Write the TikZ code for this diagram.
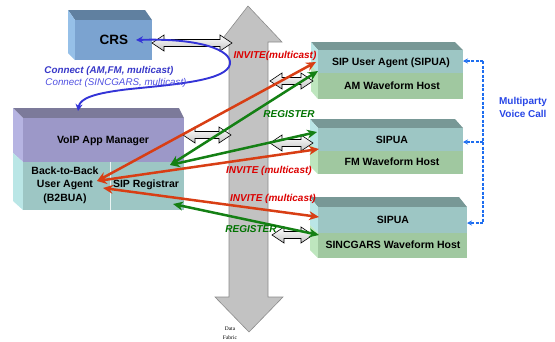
\documentclass[tikz,border=0pt]{standalone}
\usepackage{fontspec}
\setmainfont{Liberation Sans}
\newfontfamily\serifsmall{Liberation Serif}
\usetikzlibrary{arrows.meta,calc}

\definecolor{crsfront}{RGB}{123,163,208}
\definecolor{crstop}{RGB}{96,128,160}
\definecolor{crsleft}{RGB}{150,192,232}
\definecolor{voipfront}{RGB}{156,152,200}
\definecolor{voiptop}{RGB}{124,122,154}
\definecolor{voipleft}{RGB}{182,180,226}
\definecolor{tealfront}{RGB}{157,198,196}
\definecolor{tealleft}{RGB}{186,230,230}
\definecolor{greenfront}{RGB}{160,200,160}
\definecolor{greenleft}{RGB}{190,230,190}
\definecolor{boxtop}{RGB}{120,152,150}
\definecolor{fabric}{RGB}{194,194,194}
\definecolor{fabricline}{RGB}{140,140,140}
\definecolor{invred}{RGB}{216,62,20}
\definecolor{invtext}{RGB}{220,0,0}
\definecolor{reggreen}{RGB}{20,128,20}
\definecolor{regtext}{RGB}{0,115,0}
\definecolor{crsblue}{RGB}{52,52,215}
\definecolor{connA}{RGB}{55,55,200}
\definecolor{connB}{RGB}{80,80,225}
\definecolor{callblue}{RGB}{30,110,240}
\definecolor{calltext}{RGB}{40,70,230}

\tikzset{
  boxlabel/.style={font=\bfseries\fontsize{10.5}{12}\selectfont, inner sep=0pt, align=center},
  hollow/.style={draw=black, line width=0.6pt, top color=white, bottom color=gray!45},
  invite/.style={draw=invred, line width=2.5pt, {Stealth[length=10pt,width=9pt]}-{Stealth[length=10pt,width=9pt]}},
  register/.style={draw=reggreen, line width=2.5pt, {Stealth[length=10pt,width=9pt]}-{Stealth[length=10pt,width=9pt]}},
  invlabel/.style={text=invtext, font=\bfseries\itshape\fontsize{10}{12}\selectfont, inner sep=0pt},
  reglabel/.style={text=regtext, font=\bfseries\itshape\fontsize{10}{12}\selectfont, inner sep=0pt},
  callline/.style={draw=callblue, line width=1.3pt, dash pattern=on 3pt off 1.5pt},
}

% hollow double arrow between two named points on the same row
\newcommand\hollowlink[2]{%
  \path[hollow] let \p1=(#1), \p2=(#2) in
    (\x1,\y1) -- (\x1+12pt,\y1+8pt) -- (\x1+12pt,\y1+3.5pt) --
    (\x2-12pt,\y1+3.5pt) -- (\x2-12pt,\y1+8pt) -- (\x2,\y1) --
    (\x2-12pt,\y1-8pt) -- (\x2-12pt,\y1-3.5pt) --
    (\x1+12pt,\y1-3.5pt) -- (\x1+12pt,\y1-8pt) -- cycle;}

% a host box: top face, left face and two front bands
% #1 back-left x, #2 back top y, #3 front left x, #4 front top y,
% #5 right x, #6 split y, #7 bottom y
\newcommand\hostbox[7]{%
  \fill[boxtop] (#1,#2) -- (#5-8,#2) -- (#5,#4) -- (#3,#4) -- cycle;
  \fill[tealleft] (#1,#2) -- (#3,#4) -- (#3,#6) -- (#1,#6-8) -- cycle;
  \fill[greenleft] (#1,#6-8) -- (#3,#6) -- (#3,#7) -- (#1,#7-8) -- cycle;
  \fill[tealfront] (#3,#4) rectangle (#5,#6);
  \fill[greenfront] (#3,#6) rectangle (#5,#7);}

\begin{document}
\begin{tikzpicture}[x=1pt,y=-1pt]
\useasboundingbox (0,0) rectangle (555,341);

% data fabric
\fill[fabric, draw=fabricline, line width=0.6pt]
  (248,6) -- (282,42) -- (268,42) -- (268,297) -- (283,297) -- (249,332)
  -- (215,297) -- (229,297) -- (229,42) -- (220,42) -- cycle;
\node[font=\serifsmall\fontsize{5.5}{9.5}\selectfont, align=center, inner sep=0pt]
  (fabriclbl) at (230,333) {Data\\Fabric};

% CRS
\fill[crstop] (68,10) -- (145,10) -- (152,20) -- (75,20) -- cycle;
\fill[crsleft] (68,10) -- (75,20) -- (75,60) -- (68,53) -- cycle;
\fill[crsfront] (75,20) rectangle (152,60);
\node[font=\bfseries\fontsize{13.5}{14}\selectfont, inner sep=0pt] (crs) at (114,40) {CRS};

% VoIP App Manager with B2BUA and registrar
\fill[voiptop] (13,108) -- (179,108) -- (184,118) -- (23,118) -- cycle;
\fill[voipleft] (13,108) -- (23,118) -- (23,162) -- (13,153) -- cycle;
\fill[tealleft] (13,153) -- (23,162) -- (23,210) -- (13,201) -- cycle;
\fill[voipfront] (23,118) rectangle (184,162);
\fill[tealfront] (23,162) rectangle (184,210);
\draw[white!80!tealfront, line width=0.6pt] (110,162) -- (110,210);
\node[boxlabel] (voip) at (103,141) {VoIP App Manager};
\node[boxlabel, font=\bfseries\fontsize{10.5}{13.5}\selectfont] (b2bua) at (65,185) {Back-to-Back\\User Agent\\(B2BUA)};
\node[boxlabel] (reg) at (146,185) {SIP Registrar};

% waveform hosts
\hostbox{311}{42}{318}{50}{463}{73}{99}
\node[boxlabel] (sipua) at (391,63) {SIP User Agent (SIPUA)};
\node[boxlabel] (am) at (392,86) {AM Waveform Host};
\hostbox{310}{119}{318}{128}{463}{151}{174}
\node[boxlabel] (sipuafm) at (392,140) {SIPUA};
\node[boxlabel] (fm) at (392,162) {FM Waveform Host};
\hostbox{310}{197}{318}{207}{467}{233}{258}
\node[boxlabel] (sipuasg) at (393,220) {SIPUA};
\node[boxlabel] (sg) at (393,245) {SINCGARS Waveform Host};

% links to the data fabric
\coordinate (crsE) at (152,43);   \coordinate (fabCrs) at (232,43);
\coordinate (voipE) at (183,135); \coordinate (fabVoip) at (231,135);
\coordinate (fabAm) at (270,81);  \coordinate (amW) at (313,81);
\coordinate (fabFm) at (270,143); \coordinate (fmW) at (313,143);
\coordinate (fabSg) at (272,235); \coordinate (sgW) at (313,235);
\hollowlink{crsE}{fabCrs}
\hollowlink{voipE}{fabVoip}
\hollowlink{fabAm}{amW}
\hollowlink{fabFm}{fmW}
\hollowlink{fabSg}{sgW}

% CRS connect requests
\coordinate (crsIn) at (136,40);
\coordinate (voipTop) at (78,111);
\draw[crsblue, line width=1.9pt, {Stealth[length=7pt,width=7pt]}-{Stealth[length=7pt,width=7pt]}]
  (crsIn) .. controls (200,38) and (232,50) .. (230,64)
  .. controls (227,80) and (180,84) .. (130,89)
  .. controls (95,93) and (80,98) .. (voipTop);
\node[text=connA, font=\bfseries\itshape\fontsize{9.8}{10}\selectfont, inner sep=0pt]
  (conn1) at (109,71) {Connect (AM,FM, multicast)};
\node[text=connB, font=\itshape\fontsize{9.8}{10}\selectfont, inner sep=0pt]
  (conn2) at (116,83) {Connect (SINCGARS, multicast)};

% signalling
\coordinate (uaA) at (97,181);
\coordinate (uaB) at (103,188);
\coordinate (regA) at (170,165);
\coordinate (regB) at (173,204);
\coordinate (amIn) at (316,62);
\coordinate (amReg) at (318,71);
\coordinate (fmReg) at (317,132);
\coordinate (fmIn) at (319,149);
\coordinate (sgIn) at (319,217);
\coordinate (sgReg) at (319,235);
\draw[invite] (uaA) -- (amIn);
\draw[register] (regA) -- (amReg);
\draw[register] (regA) -- (fmReg);
\draw[invite] (uaA) -- (fmIn);
\draw[invite] (uaB) -- (sgIn);
\draw[register] (regB) -- (sgReg);

\node[invlabel] (inv1) at (275,56) {INVITE(multicast)};
\node[reglabel] (reg1) at (289,114) {REGISTER};
\node[invlabel] (inv2) at (269,171) {INVITE (multicast)};
\node[invlabel] (inv3) at (273,199) {INVITE (multicast)};
\node[reglabel] (reg2) at (251,229) {REGISTER};

% multiparty voice call
\coordinate (busTop) at (483,61);
\coordinate (busMid) at (483,142);
\coordinate (busBot) at (483,223);
\coordinate (amE) at (463,61);
\coordinate (fmE) at (463,142);
\coordinate (sgE) at (467,223);
\draw[callline, -{Stealth[length=5pt,width=5pt]}] (busTop) -- (amE);
\draw[callline] (busTop) -- (busBot);
\draw[callline, -{Stealth[length=5pt,width=5pt]}] (busMid) -- (fmE);
\draw[callline, -{Stealth[length=5pt,width=5pt]}] (busBot) -- (sgE);
\node[text=calltext, font=\bfseries\fontsize{10}{13}\selectfont, align=center, inner sep=0pt]
  (call) at (523,107) {Multiparty\\Voice Call};
\end{tikzpicture}
\end{document}
